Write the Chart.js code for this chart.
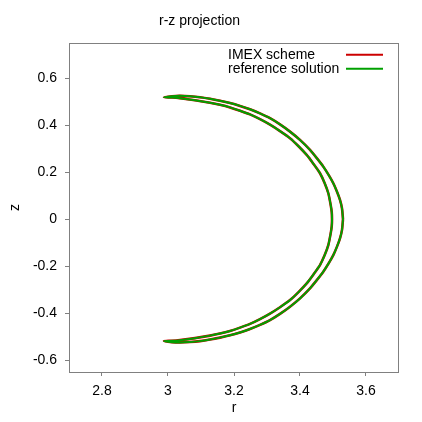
<!DOCTYPE html>
<html>
<head>
<meta charset="utf-8">
<script src="https://cdn.jsdelivr.net/npm/chart.js@4"></script>
<style>
  html, body { margin: 0; padding: 0; background: #fff; }
  #wrap { width: 422px; height: 422px; }
</style>
</head>
<body>
<div id="wrap"><canvas id="chart" width="422" height="422"></canvas></div>
<script>
// r-z projection of the orbit, one closed loop:
// outer nose -> outer branch down -> bottom tip -> inner branch -> top tip -> outer branch -> nose
const rValues = [
  3.5303, 3.5273, 3.5212, 3.5118, 3.5009, 3.4867, 3.4706, 3.4515, 3.4303, 3.4000, 3.3697, 3.3394,
  3.3091, 3.2788, 3.2485, 3.2182, 3.1879, 3.1576, 3.1273, 3.0970, 3.0667, 3.0364, 3.0121,
  2.9879,
  3.0121, 3.0364, 3.0818, 3.1273, 3.1576, 3.1879, 3.2182, 3.2485, 3.2788, 3.3091, 3.3394, 3.3697,
  3.3955, 3.4203, 3.4409, 3.4606, 3.4745, 3.4858, 3.4927, 3.4961,
  3.4970,
  3.4961, 3.4927, 3.4858, 3.4745, 3.4606, 3.4409, 3.4203, 3.3955, 3.3697, 3.3394, 3.3091, 3.2788,
  3.2485, 3.2182, 3.1879, 3.1576, 3.1273, 3.0818, 3.0364, 3.0121,
  2.9879,
  3.0121, 3.0364, 3.0667, 3.0970, 3.1273, 3.1576, 3.1879, 3.2182, 3.2485, 3.2788, 3.3091, 3.3394,
  3.3697, 3.4000, 3.4303, 3.4515, 3.4706, 3.4867, 3.5009, 3.5118, 3.5212, 3.5273, 3.5303
];
const zValues = [
  0.0000, -0.0455, -0.0817, -0.1179, -0.1528, -0.1881, -0.2234, -0.2583, -0.2945, -0.3370, -0.3723, -0.4030,
  -0.4294, -0.4498, -0.4672, -0.4817, -0.4940, -0.5038, -0.5121, -0.5187, -0.5226, -0.5243, -0.5230,
  -0.5183,
  -0.5174, -0.5145, -0.5060, -0.4953, -0.4864, -0.4753, -0.4613, -0.4455, -0.4251, -0.4017, -0.3745, -0.3443,
  -0.3102, -0.2732, -0.2349, -0.1953, -0.1540, -0.1102, -0.0626, -0.0306,
  0.0000,
  0.0306, 0.0626, 0.1102, 0.1540, 0.1953, 0.2349, 0.2732, 0.3102, 0.3443, 0.3745, 0.4017, 0.4251,
  0.4455, 0.4613, 0.4753, 0.4864, 0.4953, 0.5060, 0.5145, 0.5174,
  0.5183,
  0.5230, 0.5243, 0.5226, 0.5187, 0.5121, 0.5038, 0.4940, 0.4817, 0.4672, 0.4498, 0.4294, 0.4030,
  0.3723, 0.3370, 0.2945, 0.2583, 0.2234, 0.1881, 0.1528, 0.1179, 0.0817, 0.0455, 0.0000
];
const seriesNames = ['IMEX scheme', 'reference solution'];
const seriesColors = ['#cc0000', '#00a000'];
const xTicks = [2.8, 3.0, 3.2, 3.4, 3.6];
const yTicks = [-0.6, -0.4, -0.2, 0, 0.2, 0.4, 0.6];

const FONT = "'Liberation Sans', Arial, Helvetica, sans-serif";

const points = rValues.map((r, i) => ({ x: r, y: zValues[i] }));

// frame around the plot area + legend inside it
const framePlugin = {
  id: 'frame',
  afterDraw(chart) {
    const { ctx, chartArea: a } = chart;
    ctx.save();
    ctx.strokeStyle = '#808080';
    ctx.lineWidth = 1;
    ctx.strokeRect(Math.round(a.left) + 0.5, Math.round(a.top) + 0.5,
      Math.round(a.right - a.left) - 1, Math.round(a.bottom - a.top));

    ctx.font = '14px ' + FONT;
    ctx.fillStyle = '#000';
    ctx.textBaseline = 'middle';
    ctx.textAlign = 'left';
    seriesNames.forEach((name, i) => {
      const y = a.top + 12 + i * 14;
      ctx.fillText(name, a.left + 159, y);
      ctx.strokeStyle = seriesColors[i];
      ctx.lineWidth = 2;
      ctx.beginPath();
      ctx.moveTo(a.left + 277, y);
      ctx.lineTo(a.left + 314, y);
      ctx.stroke();
    });
    ctx.restore();
  }
};

new Chart(document.getElementById('chart').getContext('2d'), {
  type: 'scatter',
  data: {
    datasets: [
      {
        label: seriesNames[0],
        data: points,
        showLine: true,
        borderColor: seriesColors[0],
        borderWidth: 2.6,
        pointRadius: 0,
        tension: 0.2,
        order: 2
      },
      {
        label: seriesNames[1],
        data: points,
        showLine: true,
        borderColor: seriesColors[1],
        borderWidth: 2,
        pointRadius: 0,
        tension: 0.2,
        order: 1
      }
    ]
  },
  options: {
    responsive: false,
    animation: false,
    layout: { padding: { left: 0, right: 23, top: 0, bottom: 0 } },
    plugins: {
      legend: { display: false },
      tooltip: { enabled: false },
      title: {
        display: true,
        text: 'r-z projection',
        color: '#000',
        font: { family: FONT, size: 14, weight: 'normal' },
        padding: { top: 13, bottom: 13 }
      }
    },
    scales: {
      x: {
        type: 'linear',
        min: 2.7,
        max: 3.7,
        afterFit: s => { s.height = 50; },
        afterBuildTicks: s => { s.ticks = xTicks.map(v => ({ value: v })); },
        ticks: {
          color: '#000',
          font: { family: FONT, size: 14 },
          padding: 7,
          callback: v => String(v)
        },
        grid: { drawOnChartArea: false, drawTicks: true, tickLength: 4, color: '#808080' },
        border: { display: false },
        title: {
          display: true,
          text: 'r',
          color: '#000',
          font: { family: FONT, size: 14 },
          padding: { top: 0, bottom: 5 }
        }
      },
      y: {
        type: 'linear',
        min: -0.65,
        max: 0.75,
        afterFit: s => { s.width = 69; },
        afterBuildTicks: s => { s.ticks = yTicks.map(v => ({ value: v })); },
        ticks: {
          color: '#000',
          font: { family: FONT, size: 14 },
          padding: 8,
          callback: v => String(v)
        },
        grid: { drawOnChartArea: false, drawTicks: true, tickLength: 4, color: '#808080' },
        border: { display: false },
        title: {
          display: true,
          text: 'z',
          color: '#000',
          font: { family: FONT, size: 14 },
          padding: { top: 7, bottom: 0 }
        }
      }
    }
  },
  plugins: [framePlugin]
});
</script>
</body>
</html>
